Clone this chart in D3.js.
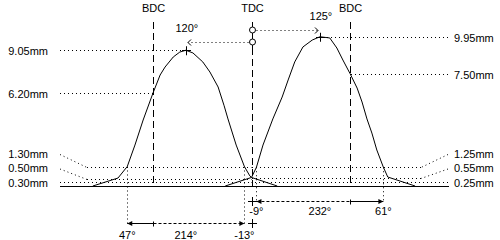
<!DOCTYPE html>
<html>
<head>
<meta charset="utf-8">
<script src="https://cdn.jsdelivr.net/npm/d3@7"></script>
<style>
  body { margin: 0; background: #fff; }
  text { font-family: "Liberation Sans", Arial, sans-serif; font-size: 11px; fill: #000; }
</style>
</head>
<body>
<svg id="chart" width="500" height="240"></svg>
<script>
// crank angle in degrees, 0 = TDC of the overlap, negative = before it
const exhaustAngle = [-290, -244, -227, -213, -198, -180, -167, -158, -143, -131, -120, -107, -89, -76, -61, -50, -43, -28, -13, -3, 0, 47];
const exhaustLift = [0, 0.53, 1.30, 2.73, 4.40, 6.20, 7.40, 7.93, 8.60, 8.93, 9.05, 8.87, 8.27, 7.60, 6.60, 5.35, 4.47, 2.73, 1.30, 0.67, 0.57, 0];
const intakeAngle = [-48, 0, 9, 21, 39, 56, 67, 79, 94, 111, 125, 143, 156, 167, 180, 193, 202, 211, 220, 229, 241, 249, 299];
const intakeLift = [0, 0.57, 1.25, 2.73, 4.47, 5.93, 7.07, 8.27, 9.27, 9.73, 9.95, 9.87, 9.20, 8.40, 7.50, 6.53, 5.60, 4.47, 3.53, 2.40, 1.25, 0.60, 0];

const markerAngles = [-180, 0, 180];
const markerLabels = ["BDC", "TDC", "BDC"];

// lift levels, and the angle where each dotted level line stops
const exhaustLevels = [9.05, 6.20, 1.30, 0.50, 0.30];
const exhaustLevelEnd = [-120, -180, 0, 0, 0];
const intakeLevels = [9.95, 7.50, 1.25, 0.55, 0.25];
const intakeLevelEnd = [125, 180, 0, 0, 0];

const exhaustPeak = [-120, 9.05];
const intakePeak = [125, 9.95];

// opening / closing angles, measured at the 1.30mm and 1.25mm levels
const exhaustTiming = [-227, -13];
const exhaustTimingLabels = ["47°", "-13°"];
const exhaustDuration = "214°";
const intakeTiming = [9, 241];
const intakeTimingLabels = ["-9°", "61°"];
const intakeDuration = "232°";

const svg = d3.select("#chart");
const x = d3.scaleLinear().domain([-180, 180]).range([153, 350]);
const y = d3.scaleLinear().domain([0, 10]).range([186, 36]);
const px = v => Math.round(v) + 0.5;

const leftEdge = 60, rightEdge = 448;
const dotted = "1,3";

function seg(x1, y1, x2, y2, dash) {
  return svg.append("line")
    .attr("x1", x1).attr("y1", y1).attr("x2", x2).attr("y2", y2)
    .attr("stroke", "#000").attr("stroke-width", 1)
    .attr("stroke-dasharray", dash || null);
}

function plus(cx, cy, r) {
  seg(cx - r, px(cy), cx + r + 1, px(cy));
  seg(px(cx), cy - r, px(cx), cy + r + 1);
}

// baseline
seg(leftEdge, px(y(0)), rightEdge + 1, px(y(0)));

// level lines with their labels
function levelRows(levels, ends, side) {
  const low = levels.length - 1;
  levels.forEach((v, i) => {
    const rowY = px(y(v));
    let labelY = rowY;
    const edge = side === "left" ? leftEdge : rightEdge;
    const dir = side === "left" ? 1 : -1;
    if (i < 2) {
      seg(edge, rowY, x(ends[i]), rowY, dotted);
    } else {
      labelY = px(y(levels[low])) - (low - i) * 14.5;
      const bend = edge + dir * 27;
      if (i < low) seg(edge, labelY + 1, bend, rowY, dotted);
      seg(i < low ? bend : edge, rowY, x(ends[i]), rowY, dotted);
    }
    svg.append("text")
      .attr("x", side === "left" ? 48 : 454)
      .attr("y", labelY + 4)
      .attr("text-anchor", side === "left" ? "end" : "start")
      .text(d3.format(".2f")(v) + "mm");
  });
}
levelRows(exhaustLevels, exhaustLevelEnd, "left");
levelRows(intakeLevels, intakeLevelEnd, "right");

// BDC / TDC markers
markerAngles.forEach((a, i) => {
  const mx = px(x(a));
  svg.append("text").attr("x", mx).attr("y", 12)
    .attr("text-anchor", "middle").text(markerLabels[i]);
  if (a === 0) {
    seg(mx, 22, mx, 48);
    seg(mx, 48, mx, y(0), "7,4");
  } else {
    seg(mx, 22, mx, y(0), "7,4");
  }
});

// lift curves
const line = d3.line().x(d => x(d[0])).y(d => y(d[1]));
[[exhaustAngle, exhaustLift], [intakeAngle, intakeLift]].forEach(([a, l]) => {
  svg.append("path")
    .attr("d", line(a.map((v, i) => [v, l[i]])))
    .attr("fill", "none").attr("stroke", "#000").attr("stroke-width", 1);
});

// peaks: cross, label and dotted arrow from the TDC line
const tdcX = px(x(0));
[[exhaustPeak, 42, 32], [intakePeak, 30, 20]].forEach(([p, ay, ty]) => {
  const pxx = x(p[0]);
  plus(Math.round(pxx), y(p[1]), 4);
  svg.append("text").attr("x", pxx + 1).attr("y", ty)
    .attr("text-anchor", "middle").text(Math.abs(p[0]) + "°");
  const dir = p[0] < 0 ? -1 : 1;
  const tip = Math.round(pxx) - dir * 2;
  seg(tdcX + dir * 4, px(ay), tip, px(ay), dotted);
  svg.append("path")
    .attr("d", `M${tip - dir * 3},${px(ay) - 3}L${tip},${px(ay)}L${tip - dir * 3},${px(ay) + 3}`)
    .attr("fill", "none").attr("stroke", "#000");
  svg.append("circle").attr("cx", tdcX).attr("cy", ay).attr("r", 3)
    .attr("fill", "#fff").attr("stroke", "#000");
});

// timing arrows
function arrowHead(tx, ty, dir) {
  svg.append("path")
    .attr("d", `M${tx},${ty}L${tx - dir * 5},${ty - 2.5}L${tx - dir * 5},${ty + 2.5}Z`)
    .attr("fill", "#000");
}
function timing(t, labels, duration, level, bdc, ay, ty) {
  const a0 = x(t[0]), a1 = x(t[1]), b = px(x(bdc)), ry = px(ay);
  t.forEach(v => seg(px(x(v)), y(level), px(x(v)), ry, dotted));
  if (bdc < 0) {
    seg(a0, ry, b, ry);
    seg(b, ry, a1, ry, "3,2");
  } else {
    seg(a0, ry, b, ry, "3,2");
    seg(b, ry, a1, ry);
  }
  seg(b, ry - 2, b, ry + 3);
  arrowHead(a0, ry, -1);
  arrowHead(a1, ry, 1);
  plus(tdcX - 0.5, ay, 4);
  svg.append("text").attr("x", a0).attr("y", ty).attr("text-anchor", "middle").text(labels[0]);
  svg.append("text").attr("x", (a0 + a1) / 2).attr("y", ty).attr("text-anchor", "middle").text(duration);
  svg.append("text").attr("x", a1).attr("y", ty).attr("text-anchor", "middle").text(labels[1]);
}
timing(exhaustTiming, exhaustTimingLabels, exhaustDuration, exhaustLevels[2], -180, 223, 239);
timing(intakeTiming, intakeTimingLabels, intakeDuration, intakeLevels[2], 180, 201, 215);
</script>
</body>
</html>
